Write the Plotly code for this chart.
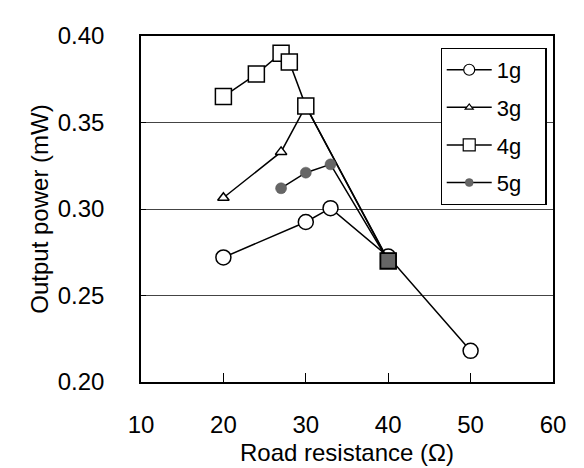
import plotly.graph_objects as go

# Data
x_1g = [20, 30, 33, 40, 50]
y_1g = [0.272, 0.2925, 0.3005, 0.2725, 0.218]

x_3g = [20, 27, 30, 40]
y_3g = [0.3065, 0.333, 0.3595, 0.2705]

x_4g = [20, 24, 27, 28, 30, 40]
y_4g = [0.365, 0.378, 0.390, 0.385, 0.3595, 0.270]

x_5g = [27, 30, 33, 40]
y_5g = [0.312, 0.321, 0.3258, 0.270]

series_names = ["1g", "3g", "4g", "5g"]
x_ticks = [10, 20, 30, 40, 50, 60]
y_ticks = [0.20, 0.25, 0.30, 0.35, 0.40]

FONT = "Arial, Liberation Sans, sans-serif"
line = dict(color="black", width=1.5)

styles = [
    dict(symbol="circle", size=15, color="white", line=dict(color="black", width=1.5)),
    dict(symbol="triangle-up", size=10, color="white", line=dict(color="black", width=1.5)),
    dict(symbol="square", size=16, color="white", line=dict(color="black", width=1.5)),
    dict(symbol="circle", size=11, color="#666666", line=dict(color="#555555", width=0.5)),
]
legend_styles = [
    dict(symbol="circle", size=11, color="white", line=dict(color="black", width=1.2)),
    dict(symbol="triangle-up", size=7, color="white", line=dict(color="black", width=1.2)),
    dict(symbol="square", size=12, color="white", line=dict(color="black", width=1.2)),
    dict(symbol="circle", size=8, color="#666666", line=dict(color="#555555", width=0.5)),
]

fig = go.Figure()
for name, xs, ys, st in zip(series_names, [x_1g, x_3g, x_4g, x_5g],
                            [y_1g, y_3g, y_4g, y_5g], styles):
    fig.add_trace(go.Scatter(x=xs, y=ys, name=name, mode="lines+markers", line=line,
                             marker=st, showlegend=False))
# 40-ohm point drawn as a filled grey square on top
fig.add_trace(go.Scatter(x=[x_4g[-1]], y=[y_4g[-1]], mode="markers", showlegend=False,
                         marker=dict(symbol="square", size=15, color="#666666",
                                     line=dict(color="black", width=1.2))))
# legend entries (smaller symbols, as in the reference)
for i, (name, st) in enumerate(zip(series_names, legend_styles)):
    fig.add_trace(go.Scatter(x=[None], y=[None], name=name + "\u00a0\u00a0\u00a0",
                             mode="lines+markers", line=line, marker=st,
                             legendgroup=f"g{i}"))

# the page has an 8 px body margin, so offsets are compensated
fig.update_layout(
    width=584, height=468,
    margin=dict(l=133, r=39, t=28, b=94),
    paper_bgcolor="white", plot_bgcolor="white",
    font=dict(family=FONT, size=24, color="black"),
    showlegend=True,
    legend=dict(x=0.727, y=0.966, xanchor="left", yanchor="top",
                bgcolor="white", bordercolor="black", borderwidth=1.2,
                font=dict(size=22, family=FONT), tracegroupgap=6,
                itemwidth=45),
)
fig.update_xaxes(
    range=[10, 60], tickvals=x_ticks, ticktext=[str(v) for v in x_ticks],
    showgrid=False, zeroline=False, automargin=False,
    showline=True, linecolor="black", linewidth=1.5, mirror=True,
    ticks="inside", ticklen=9, tickcolor="black", tickwidth=1.2,
    ticklabelstandoff=20,
    tickfont=dict(size=24),
    title=dict(text="Road resistance (Ω)", font=dict(size=24), standoff=8),
)
fig.update_yaxes(
    range=[0.20, 0.40], tickvals=y_ticks, ticktext=[f"{v:.2f}" for v in y_ticks],
    showgrid=True, gridcolor="#444444", gridwidth=1, zeroline=False, automargin=False,
    showline=True, linecolor="black", linewidth=1.5, mirror=True,
    ticks="inside", ticklen=5, tickcolor="black",
    ticklabelstandoff=30,
    tickfont=dict(size=24),
    title=dict(text="Output power (mW)", font=dict(size=24), standoff=2),
)

fig.write_html("out.html")
